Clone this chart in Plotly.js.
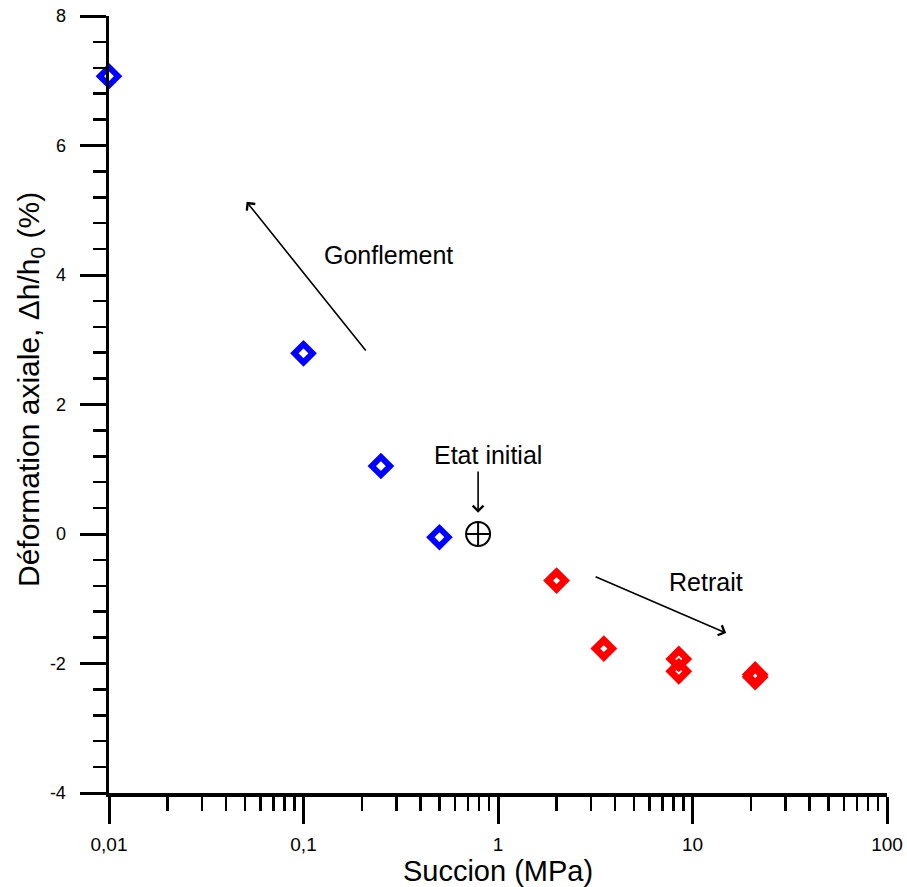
<!DOCTYPE html>
<html>
<head>
<meta charset="utf-8">
<script src="https://cdn.plot.ly/plotly-3.0.1.min.js"></script>
<style>html,body{margin:0;padding:0;background:#fff;}#chart{width:907px;height:887px;}</style>
</head>
<body>
<div id="chart"></div>
<script>
// Swelling (Gonflement) points - blue
const swellX = [0.01, 0.1, 0.25, 0.5];
const swellY = [7.07, 2.79, 1.05, -0.05];
// Shrinkage (Retrait) points - red
const shrinkX = [2, 3.5, 8.5, 8.5, 21, 21];
const shrinkY = [-0.72, -1.77, -1.93, -2.12, -2.17, -2.21];
// Initial state
const initX = [0.79];
const initY = [0];

// Axis ticks
const xTickVals = [0.01, 0.1, 1, 10, 100];
const xTickText = ["0,01", "0,1", "1", "10", "100"];
const xMinorVals = [];
[0.01, 0.1, 1, 10].forEach(d => { for (let k = 2; k <= 9; k++) xMinorVals.push(+(d * k).toPrecision(3)); });
const yTickVals = [-4, -2, 0, 2, 4, 6, 8];
const yTickText = ["-4", "-2", "0", "2", "4", "6", "8"];

const font = "Liberation Sans, Arial, sans-serif";

const traces = [
  {
    x: swellX, y: swellY, type: "scatter", mode: "markers",
    marker: { symbol: "diamond-open", size: 14, color: "#0000ff", line: { color: "#0000ff", width: 6 } },
    cliponaxis: false, showlegend: false, hoverinfo: "skip"
  },
  {
    x: shrinkX, y: shrinkY, type: "scatter", mode: "markers",
    marker: { symbol: "diamond-open", size: 13, color: "#ff0000", line: { color: "#ff0000", width: 7 } },
    cliponaxis: false, showlegend: false, hoverinfo: "skip"
  },
  {
    x: initX, y: initY, type: "scatter", mode: "markers",
    marker: { symbol: "circle-cross-open", size: 24, color: "#000", line: { color: "#000", width: 2 } },
    cliponaxis: false, showlegend: false, hoverinfo: "skip"
  }
];

const annFont = { family: font, size: 25, color: "#000" };

const layout = {
  width: 907, height: 887,
  margin: { l: 109, r: 20, t: 16, b: 94 },
  paper_bgcolor: "#fff", plot_bgcolor: "#fff",
  font: { family: font, color: "#000" },
  showlegend: false,
  xaxis: {
    type: "log", range: [-2, 2],
    tickmode: "array", tickvals: xTickVals, ticktext: xTickText,
    ticks: "outside", ticklen: 27, tickwidth: 3, tickcolor: "#000",
    ticklabelstandoff: 5,
    minor: { tickmode: "array", tickvals: xMinorVals, ticks: "outside", ticklen: 14, tickwidth: 2.5, tickcolor: "#000", showgrid: false },
    showline: true, linewidth: 3.5, linecolor: "#000",
    showgrid: false, zeroline: false,
    tickfont: { family: font, size: 19, color: "#000" },
    title: { text: "Succion (MPa)", font: { family: font, size: 29, color: "#000" }, standoff: 4 }
  },
  yaxis: {
    range: [-4, 8],
    tickmode: "array", tickvals: yTickVals, ticktext: yTickText,
    ticks: "outside", ticklen: 26, tickwidth: 3, tickcolor: "#000",
    ticklabelstandoff: 10,
    minor: { dtick: 0.4, tick0: -4, ticks: "outside", ticklen: 13, tickwidth: 2.5, tickcolor: "#000", showgrid: false },
    showline: true, linewidth: 3.5, linecolor: "#000",
    showgrid: false, zeroline: false,
    tickfont: { family: font, size: 18, color: "#000" }
  },
  annotations: [
    { x: Math.log10(0.051), y: 5.13, ax: Math.log10(0.212), ay: 2.81, xref: "x", yref: "y", axref: "x", ayref: "y",
      text: "", showarrow: true, arrowhead: 4, arrowsize: 1.3, arrowwidth: 1.6, arrowcolor: "#000" },
    { x: Math.log10(14.9), y: -1.53, ax: Math.log10(3.12), ay: -0.65, xref: "x", yref: "y", axref: "x", ayref: "y",
      text: "", showarrow: true, arrowhead: 4, arrowsize: 1.3, arrowwidth: 1.6, arrowcolor: "#000" },
    { x: Math.log10(0.79), y: 0.33, ax: Math.log10(0.79), ay: 0.99, xref: "x", yref: "y", axref: "x", ayref: "y",
      text: "", showarrow: true, arrowhead: 4, arrowsize: 1.3, arrowwidth: 1.6, arrowcolor: "#000" },
    { x: Math.log10(0.272), y: 4.31, xref: "x", yref: "y", text: "Gonflement", showarrow: false, font: annFont },
    { x: Math.log10(0.89), y: 1.22, xref: "x", yref: "y", text: "Etat initial", showarrow: false, font: annFont },
    { x: Math.log10(11.7), y: -0.74, xref: "x", yref: "y", text: "Retrait", showarrow: false, font: annFont },
    { x: (30 - 109) / 778, y: (887 - 94 - 390) / 777, xref: "paper", yref: "paper", xanchor: "center", yanchor: "middle",
      textangle: -90, showarrow: false,
      text: "Déformation axiale, \u0394h/h<sub>0</sub> (%)", font: { family: font, size: 30, color: "#000" } }
  ]
};

Plotly.newPlot("chart", traces, layout, { displayModeBar: false, staticPlot: true });
</script>
</body>
</html>
